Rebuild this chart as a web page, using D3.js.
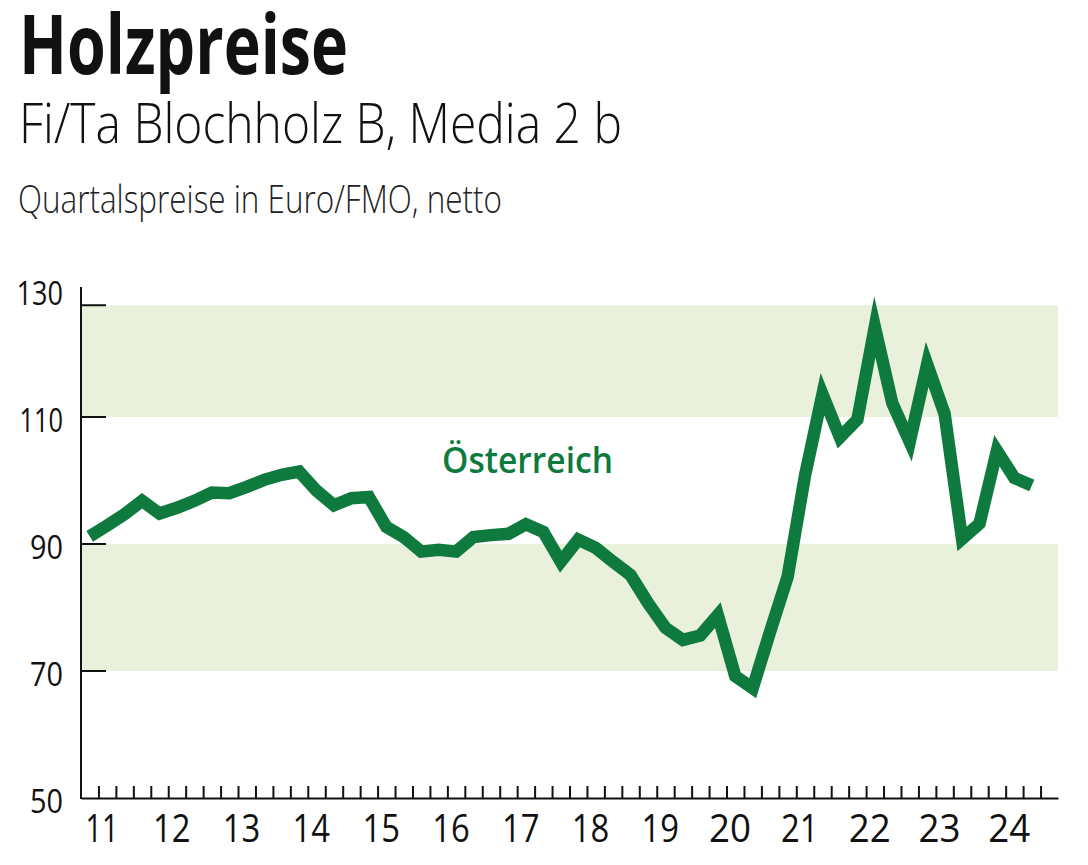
<!DOCTYPE html>
<html>
<head>
<meta charset="utf-8">
<script src="https://cdn.jsdelivr.net/npm/d3@7/dist/d3.min.js"></script>
<style>
  html, body { margin: 0; padding: 0; background: #ffffff; }
  svg { display: block; }
</style>
</head>
<body>
<svg id="chart" width="1088" height="865"></svg>
<script>
// ---------- data ----------
const title = "Holzpreise";
const subtitle = "Fi/Ta Blochholz B, Media 2 b";
const unitLine = "Quartalspreise in Euro/FMO, netto";
const seriesName = "Österreich";

const startYear = 2011;
const endYear = 2025; // axis end (exclusive)
const yearLabels = ["11","12","13","14","15","16","17","18","19","20","21","22","23","24"];
const yTickLabels = [50, 70, 90, 110, 130];
const bandRanges = [[70, 90], [110, 127.6]];
const bandTickValues = [70, 90, 110, 127.6];

// Quarterly prices 2011 Q1 .. 2024 Q3 (Euro/FMO)
const prices = [
  91.2, 92.9, 94.7, 96.8,   // 2011
  94.8, 95.7, 96.8, 98.1,   // 2012
  98.0, 99.0, 100.1, 100.9, // 2013
  101.4, 98.4, 96.1, 97.2,  // 2014
  97.4, 92.7, 91.1, 88.8,   // 2015
  89.1, 88.8, 91.1, 91.4,   // 2016
  91.6, 93.1, 91.9, 87.2,   // 2017
  90.7, 89.4, 87.2, 85.1,   // 2018
  80.7, 76.8, 74.9, 75.6,   // 2019
  78.8, 69.2, 67.3, 76.2,   // 2020
  84.8, 100.8, 113.6, 106.8,// 2021
  109.6, 124.2, 112.2, 106.1,// 2022
  118.3, 110.5, 90.8, 93.2, // 2023
  104.7, 100.4, 99.2        // 2024
];

// ---------- layout ----------
(function () {
const svg = d3.select("#chart");
const mLeft = 81, mRight = 1058, mTop = 290, mBottom = 798;

const x = d3.scaleLinear().domain([startYear, endYear]).range([mLeft, mRight]);
const y = d3.scaleLinear().domain([50, 130]).range([mBottom, mTop]);

const green = "#0e7a3e";
const band = "#e9f0db";
const ink = "#111111";

// ---------- titles ----------
svg.append("text")
  .attr("x", 19).attr("y", 74)
  .attr("font-family", "'Open Sans', 'Noto Sans', sans-serif")
  .attr("font-weight", 700).attr("font-size", 82)
  .attr("textLength", 329).attr("lengthAdjust", "spacingAndGlyphs")
  .attr("fill", ink).text(title);

svg.append("text")
  .attr("x", 19).attr("y", 143)
  .attr("font-family", "'Open Sans', 'Noto Sans', sans-serif")
  .attr("font-weight", 300).attr("font-size", 56)
  .attr("textLength", 603).attr("lengthAdjust", "spacingAndGlyphs")
  .attr("fill", ink).text(subtitle);

svg.append("text")
  .attr("x", 18).attr("y", 213)
  .attr("font-family", "'Open Sans', 'Noto Sans', sans-serif")
  .attr("font-weight", 300).attr("font-size", 39)
  .attr("textLength", 484).attr("lengthAdjust", "spacingAndGlyphs")
  .attr("fill", "#222").text(unitLine);

// ---------- bands ----------
svg.append("g").selectAll("rect").data(bandRanges).join("rect")
  .attr("x", mLeft).attr("width", mRight - mLeft)
  .attr("y", d => y(d[1])).attr("height", d => y(d[0]) - y(d[1]))
  .attr("fill", band);

// ---------- y axis ----------
svg.append("line")
  .attr("x1", mLeft).attr("x2", mLeft)
  .attr("y1", y(130) - 3).attr("y2", mBottom + 1)
  .attr("stroke", ink).attr("stroke-width", 2);

svg.append("g").selectAll("line").data(bandTickValues).join("line")
  .attr("x1", mLeft).attr("x2", mLeft + 25)
  .attr("y1", d => y(d)).attr("y2", d => y(d))
  .attr("stroke", ink).attr("stroke-width", 2);

function labelWidth(s, one, other) {
  return s.split("").reduce((a, c) => a + (c === "1" ? one : other), 0);
}

svg.append("g").selectAll("text").data(yTickLabels).join("text")
  .attr("x", 63).attr("y", d => y(d) + 15)
  .attr("text-anchor", "end")
  .attr("font-family", "'Open Sans', 'Noto Sans', sans-serif")
  .attr("font-size", 32)
  .attr("textLength", d => labelWidth(String(d), 13.5, 16.5))
  .attr("lengthAdjust", "spacingAndGlyphs")
  .attr("fill", ink).text(d => d);

// ---------- x axis ----------
const quarterTicks = d3.range(1, (endYear - startYear) * 4).map(k => startYear + k / 4);
const xAxis = d3.axisBottom(x)
  .tickValues(quarterTicks)
  .tickSizeInner(-12).tickSizeOuter(0)
  .tickFormat("");
const gx = svg.append("g").attr("transform", `translate(0,${mBottom})`).call(xAxis);
gx.select(".domain").attr("stroke", ink).attr("stroke-width", 2);
gx.selectAll(".tick line").attr("stroke", ink).attr("stroke-width", 2);

svg.append("g").selectAll("text").data(yearLabels).join("text")
  .attr("x", (d, i) => x(startYear + i) + 21)
  .attr("y", 842)
  .attr("text-anchor", "middle")
  .attr("font-family", "'Open Sans', 'Noto Sans', sans-serif")
  .attr("font-size", 39)
  .attr("textLength", d => labelWidth(d, 16.5, 21))
  .attr("lengthAdjust", "spacingAndGlyphs")
  .attr("fill", ink).text(d => d);

// ---------- line ----------
const line = d3.line()
  .x((d, i) => x(startYear + (i + 0.5) / 4))
  .y(d => y(d));

svg.append("path")
  .datum(prices)
  .attr("d", line)
  .attr("fill", "none")
  .attr("stroke", green)
  .attr("stroke-width", 12.5)
  .attr("stroke-linejoin", "miter")
  .attr("stroke-miterlimit", 6)
  .attr("stroke-linecap", "butt");

// ---------- series label ----------
svg.append("text")
  .attr("x", 442).attr("y", 473)
  .attr("font-family", "'Open Sans', 'Noto Sans', sans-serif")
  .attr("font-weight", 600).attr("font-size", 36)
  .attr("textLength", 171).attr("lengthAdjust", "spacingAndGlyphs")
  .attr("fill", green).text(seriesName);
})();
</script>
</body>
</html>
